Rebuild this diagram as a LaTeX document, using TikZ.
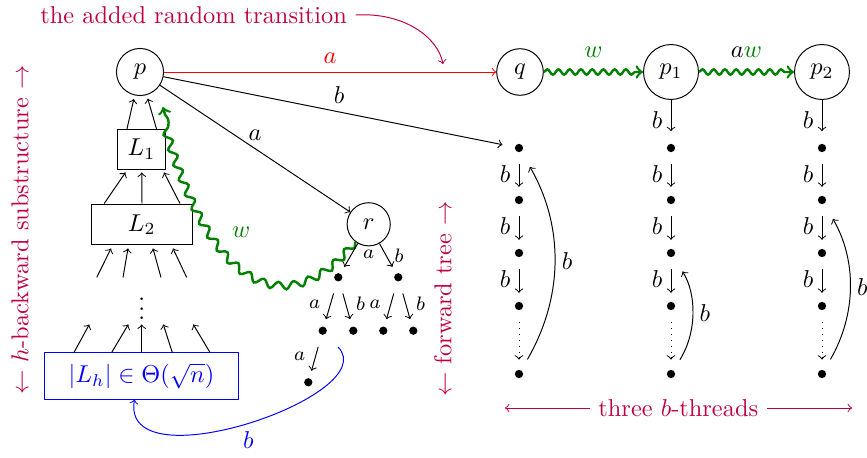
\documentclass[tikz,border=0pt]{standalone}
\usetikzlibrary{decorations.pathmorphing,calc}
\colorlet{wgreen}{green!50!black}
\begin{document}
\begin{tikzpicture}[x=0.41pt,y=-0.41pt,
  st/.style={circle,draw,inner sep=4pt},
  dot/.style={circle,fill,inner sep=0pt,minimum size=3.4pt},
  box/.style={draw,rectangle,inner sep=0pt},
  wavy/.style={->,line width=1pt,wgreen,decorate,decoration={snake,amplitude=1.1pt,segment length=4.6pt,post length=2.5pt}},
  longwavy/.style={->,line width=1pt,wgreen,decorate,decoration={snake,amplitude=1.5pt,segment length=6.5pt,post length=3pt}},
  lbl/.style={purple},
  tl/.style={font=\footnotesize,inner sep=1.5pt},
  bb/.style={->,shorten <=4.5pt,shorten >=3.5pt},
  tr/.style={->,shorten <=5pt,shorten >=3pt},
  back/.style={->,shorten <=5pt,shorten >=7pt}
]
\useasboundingbox (0,0) rectangle (867,458);

% main states
\node[st] (p) at (140,72) {$p$};
\node[st] (q) at (520,72) {$q$};
\node[st] (p1) at (671,72) {$p_1$};
\node[st] (p2) at (822,72) {$p_2$};
\node[st] (r) at (368.7,224.3) {$r$};

% backward substructure
\node[box,minimum width=19.7pt,minimum height=16.4pt] (L1) at (141.5,149.3) {$L_1$};
\node[box,minimum width=41.4pt,minimum height=16.8pt] (L2) at (141.7,224.5) {$L_2$};
\node[box,draw=blue,text=blue,minimum width=79.5pt,minimum height=18.9pt] (Lh) at (141.5,376) {$|L_h|\in\Theta(\sqrt{n})$};
\node (vd) at (141.7,301.5) {$\vdots$};

\draw[->,shorten >=1.5pt] ($(L1.north)+(-14.5,0)$) -- (p);
\draw[->,shorten >=1.5pt] ($(L1.north)+(15,0)$) -- (p);
\foreach \a/\b in {-37.5/-16,0.3/0.3,38.3/22.5}
  \draw[->] ($(L2.north)+(\a,0)$) -- ($(L1.south)+(\b,2.7)$);
\foreach \a/\b in {-45/-30.7,-18.7/-13.7,19.3/11.3,45/31.3}
  \draw[->] ($(L2.south)+(\a,32)$) -- ($(L2.south)+(\b,3)$);
\foreach \a/\b in {-67.5/-52.2,-29.8/-13.2,0.2/0.2,30.8/21.8,68.5/51.8}
  \draw[->] ($(Lh.north)+(\a,0)$) -- ($(Lh.north)+(\b,-28)$);

% columns of b-threads
\foreach \c/\x in {1/519,2/671,3/822}{
  \foreach \i/\y in {1/148,2/200,3/253,4/306,5/374}
    \node[dot] (d\c\i) at (\x,\y) {};
  \draw[bb] (d\c1) -- node[left]{$b$} (d\c2);
  \draw[bb] (d\c2) -- node[left]{$b$} (d\c3);
  \draw[bb] (d\c3) -- node[left]{$b$} (d\c4);
  \draw[->,dotted,shorten <=4.8pt,shorten >=4pt] (d\c4) -- (d\c5);
}
\draw[back] (d15) to[bend right=30] node[right]{$b$} (d11);
\draw[back] (d25) to[bend right=32] node[right]{$b$} (d23);
\draw[back] (d35) to[bend right=30] node[right]{$b$} (d32);
\draw[->,shorten >=5pt] (p1) -- node[left,pos=0.46]{$b$} (d21);
\draw[->,shorten >=5pt] (p2) -- node[left,pos=0.46]{$b$} (d31);

% transitions from p
\draw[->,red] (p) -- node[above]{$a$} (q);
\draw[->,shorten >=5pt] (p) -- node[above]{$b$} (d11);
\draw[->] (p) -- node[above]{$a$} (r);

% wavy runs
\draw[wavy] (q) -- node[above=2pt]{$w$} (p1);
\draw[wavy] (p1) -- node[above=2pt,text=black]{$a{\color{wgreen}w}$} (p2);
\coordinate (wend) at (163,107);
\draw[longwavy] (r.232) .. controls (300,310) and (215,310) .. node[pos=0.72,right=4pt]{$w$} (wend);

% forward tree
\node[dot] (t1) at (338.3,277.3) {};
\node[dot] (t2) at (398.3,277.3) {};
\node[dot] (t11) at (322.7,330.7) {};
\node[dot] (t12) at (353.3,330.7) {};
\node[dot] (t21) at (383.3,330.7) {};
\node[dot] (t22) at (413.3,330.7) {};
\node[dot] (t111) at (308.3,382.3) {};
\draw[->,shorten >=3pt] (r) -- node[tl,pos=0.35,right=3pt]{$a$} (t1);
\draw[->,shorten >=3pt] (r) -- node[tl,pos=0.4,right=1.8pt]{$b$} (t2);
\draw[tr] (t1) -- node[tl,left=2.5pt]{$a$} (t11);
\draw[tr] (t1) -- node[tl,right=2.5pt]{$b$} (t12);
\draw[tr] (t2) -- node[tl,left=2.5pt]{$a$} (t21);
\draw[tr] (t2) -- node[tl,right=2.5pt]{$b$} (t22);
\draw[tr] (t11) -- node[tl,left=2.5pt]{$a$} (t111);

% blue back transition
\coordinate (bs) at (338,347);
\draw[->,blue] (bs) .. controls (385,395) and (120,485) .. node[pos=0.5,below]{$b$} ($(Lh.south)+(-7,0)$);

% annotations
\node[lbl] (top) at (193.7,15) {the added random transition};
\coordinate (tgt) at (443,64);
\draw[->,purple] (top.east) .. controls (405,12) and (438,38) .. (tgt);
\node[lbl,rotate=90] (lft) at (20,230) {$\leftarrow$ $h$-backward substructure $\rightarrow$};
\node[lbl,rotate=90] (fwd) at (443,299) {$\leftarrow$ forward tree $\rightarrow$};
\node[lbl] (thr) at (678.3,408) {three $b$-threads};
\coordinate (thrL) at (505,408);
\coordinate (thrR) at (852,408);
\draw[->,purple] (thr.west) -- (thrL);
\draw[->,purple] (thr.east) -- (thrR);
\end{tikzpicture}
\end{document}
